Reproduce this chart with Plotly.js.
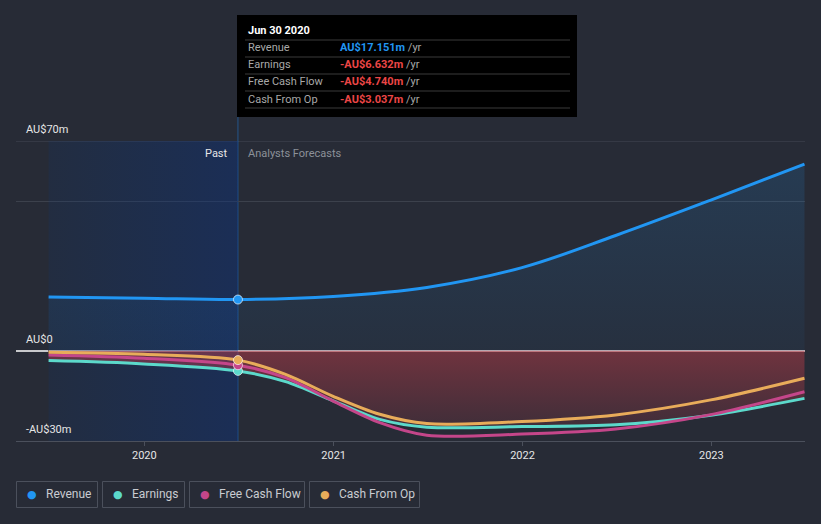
<!DOCTYPE html>
<html>
<head>
<meta charset="utf-8">
<script src="https://cdn.plot.ly/plotly-3.0.1.min.js"></script>
<style>
  html, body { margin: 0; padding: 0; background: #272B36; }
  #chart { width: 821px; height: 524px; }
</style>
</head>
<body>
<div id="chart"></div>
<script>
// ---------------- DATA ----------------
const revDates = ['2019-06-30','2019-12-31','2020-06-30','2020-12-31','2021-06-30','2021-12-31','2022-06-30','2022-12-31','2023-06-30'];
const revenue  = [18.0, 17.6, 17.151, 18.2, 21.2, 27.8, 38.5, 50.3, 62.3];

const negDates = ['2019-06-30','2019-12-31','2020-06-30','2020-09-30','2020-12-31','2021-03-31','2021-06-30','2021-12-31','2022-06-30','2022-12-31','2023-06-30'];
const earnings = [-3.2, -4.3, -6.632, -10.2, -16.6, -22.8, -25.4, -25.2, -24.6, -21.4, -15.8];
const fcf      = [-1.3, -2.4, -4.740, -8.9, -16.7, -23.9, -28.1, -27.7, -26.0, -21.2, -13.6];
const cfo      = [-0.4, -1.1, -3.037, -7.8, -15.1, -21.1, -24.2, -23.5, -21.3, -16.3, -9.1];

const nowDate = '2020-06-30';
const nowLabel = 'Jun 30 2020';
const seriesNames = ['Revenue', 'Earnings', 'Free Cash Flow', 'Cash From Op'];
const tooltipValues = ['AU$17.151m', '-AU$6.632m', '-AU$4.740m', '-AU$3.037m'];

const xTickVals = ['2020-01-01','2021-01-01','2022-01-01','2023-01-01'];
const xTickText = ['2020','2021','2022','2023'];
const yTickVals = [70, 0, -30];
const yTickText = ['AU$70m', 'AU$0', '-AU$30m'];
const yGrid = [70, 50];

// ---------------- STYLE ----------------
const BG = '#272B36';
const colors = ['#2196F3', '#5CD9CB', '#C4468A', '#E8AC5A'];
const RED = '#EC4646';
const FONT = 'Roboto, "Open Sans", sans-serif';
const yRange = [-30, 70];
const xRange = ['2019-04-28', '2023-07-01'];

// pixel helpers for paper coordinates (plot area x:16..805, y:141..441)
const px = x => (x - 16) / 789;
const py = y => (441 - y) / 300;

const pastStart = negDates[0];

const traces = [];
// past region shading (horizontal gradient)
traces.push({
  x: [pastStart, nowDate, nowDate, pastStart, pastStart],
  y: [yRange[0], yRange[0], yRange[1], yRange[1], yRange[0]],
  mode: 'lines', line: {width: 0}, fill: 'toself',
  fillgradient: {type: 'horizontal', colorscale: [[0, 'rgba(5,55,130,0.14)'], [1, 'rgba(10,50,130,0.42)']]},
  hoverinfo: 'skip', showlegend: false
});
// revenue area
traces.push({
  x: revDates, y: revenue, mode: 'lines', fill: 'tozeroy',
  line: {color: colors[0], width: 3, shape: 'spline', smoothing: 1},
  fillgradient: {type: 'vertical', colorscale: [[0, 'rgba(33,150,243,0.05)'], [1, 'rgba(33,150,243,0.15)']]},
  hoverinfo: 'skip', showlegend: false
});
// negative area under earnings
traces.push({
  x: negDates, y: earnings, mode: 'lines', fill: 'tozeroy',
  line: {color: 'rgba(0,0,0,0)', width: 0, shape: 'spline', smoothing: 0.9},
  fillgradient: {type: 'vertical', colorscale: [[0, 'rgba(190,60,72,0.16)'], [1, 'rgba(190,60,72,0.48)']]},
  hoverinfo: 'skip', showlegend: false
});
// lines
[[earnings, 1], [fcf, 2], [cfo, 3]].forEach(([arr, i]) => {
  traces.push({
    x: negDates, y: arr, mode: 'lines',
    line: {color: colors[i], width: 3, shape: 'spline', smoothing: 0.9},
    hoverinfo: 'skip', showlegend: false
  });
});
// markers at current date
const nowVals = [
  revenue[revDates.indexOf(nowDate)],
  earnings[negDates.indexOf(nowDate)],
  fcf[negDates.indexOf(nowDate)],
  cfo[negDates.indexOf(nowDate)]
];
traces.push({
  x: [nowDate, nowDate, nowDate, nowDate], y: nowVals, mode: 'markers',
  marker: {size: 9, color: colors, line: {color: 'rgba(255,255,255,0.65)', width: 1}},
  hoverinfo: 'skip', showlegend: false
});

// ---------------- SHAPES ----------------
const shapes = [];
// top gridline (at range edge)
shapes.push({type: 'line', xref: 'paper', yref: 'y', x0: 0, x1: 1, y0: yRange[1], y1: yRange[1], line: {color: '#444955', width: 1}, layer: 'below'});
// zero line
shapes.push({type: 'line', xref: 'paper', yref: 'y', x0: 0, x1: px(48), y0: 0, y1: 0, line: {color: '#FFFFFF', width: 1.5}, layer: 'below'});
shapes.push({type: 'line', xref: 'x', yref: 'y', x0: pastStart, x1: xRange[1], y0: 0, y1: 0, line: {color: '#F1D3D5', width: 1.5}, layer: 'below'});
// vertical "now" line
shapes.push({type: 'line', xref: 'x', yref: 'paper', x0: nowDate, x1: nowDate, y0: 0, y1: py(15), line: {color: 'rgba(33,120,210,0.55)', width: 1}, layer: 'below'});

// tooltip box
shapes.push({type: 'rect', xref: 'paper', yref: 'paper', x0: px(237), x1: px(577), y0: py(117), y1: py(15), fillcolor: '#000000', line: {width: 0}, layer: 'above'});
[40, 57, 74, 91, 108].forEach(y => {
  shapes.push({type: 'line', xref: 'paper', yref: 'paper', x0: px(245), x1: px(570), y0: py(y), y1: py(y), line: {color: '#3a3a3a', width: 1}, layer: 'above'});
});

// legend boxes
const legendBoxes = [[16, 97], [102, 184], [189, 304], [309, 419]];
legendBoxes.forEach(([a, b]) => {
  shapes.push({type: 'rect', xref: 'paper', yref: 'paper', x0: px(a + 0.5), x1: px(b + 0.5), y0: py(507.5), y1: py(481.5), fillcolor: 'rgba(0,0,0,0)', line: {color: '#4B505C', width: 1}, layer: 'above'});
});

// ---------------- ANNOTATIONS ----------------
const annotations = [];
// y tick labels
yTickVals.forEach((v, i) => {
  annotations.push({xref: 'paper', yref: 'y', x: px(24), y: v, yshift: 3, xanchor: 'left', yanchor: 'bottom', text: yTickText[i], showarrow: false, font: {family: FONT, size: 11, color: '#E6E6E6'}});
});
// Past / Analysts Forecasts
annotations.push({xref: 'x', yref: 'paper', x: nowDate, y: py(153), xshift: -8, xanchor: 'right', yanchor: 'middle', text: 'Past', showarrow: false, font: {family: FONT, size: 11, color: '#E6E6E6'}});
annotations.push({xref: 'x', yref: 'paper', x: nowDate, y: py(153), xshift: 8, xanchor: 'left', yanchor: 'middle', text: 'Analysts Forecasts', showarrow: false, font: {family: FONT, size: 11, color: '#8C9199'}});
// tooltip text
annotations.push({xref: 'paper', yref: 'paper', x: px(246), y: py(31), xanchor: 'left', yanchor: 'middle', text: '<b>' + nowLabel + '</b>', showarrow: false, font: {family: FONT, size: 11, color: '#FFFFFF'}});
const rowY = [48, 65, 82, 99];
seriesNames.forEach((name, i) => {
  annotations.push({xref: 'paper', yref: 'paper', x: px(246), y: py(rowY[i]), xanchor: 'left', yanchor: 'middle', text: name, showarrow: false, font: {family: FONT, size: 11, color: '#A8A8A8'}});
  const vc = i === 0 ? colors[0] : RED;
  annotations.push({xref: 'paper', yref: 'paper', x: px(338), y: py(rowY[i]), xanchor: 'left', yanchor: 'middle', text: '<b><span style="color:' + vc + '">' + tooltipValues[i] + '</span></b> /yr', showarrow: false, font: {family: FONT, size: 11, color: '#A8A8A8'}});
});
// legend items
legendBoxes.forEach(([a, b], i) => {
  annotations.push({xref: 'paper', yref: 'paper', x: px(a + 16), y: py(494.5), xanchor: 'center', yanchor: 'middle', text: '●', showarrow: false, font: {family: 'DejaVu Sans', size: 11, color: colors[i]}});
  annotations.push({xref: 'paper', yref: 'paper', x: px(a + 28), y: py(494.5), xanchor: 'left', yanchor: 'middle', text: seriesNames[i], showarrow: false, font: {family: FONT, size: 12, color: '#C9CCD1'}});
});

const layout = {
  width: 821, height: 524,
  margin: {l: 16, r: 16, t: 141, b: 83, pad: 0},
  paper_bgcolor: BG, plot_bgcolor: BG,
  font: {family: FONT, color: '#E6E6E6'},
  showlegend: false,
  hovermode: false,
  xaxis: {
    type: 'date', range: xRange,
    tickvals: xTickVals, ticktext: xTickText,
    showgrid: false, zeroline: false,
    showline: true, linecolor: '#4B505C', linewidth: 1,
    ticks: 'outside', ticklen: 4, tickcolor: '#4B505C',
    tickfont: {family: FONT, size: 11, color: '#E6E6E6'},
    fixedrange: true
  },
  yaxis: {
    range: yRange, tickvals: yGrid, showticklabels: false,
    showgrid: true, gridcolor: '#3C414C', gridwidth: 1,
    zeroline: false, showline: false, ticks: '', fixedrange: true
  },
  shapes: shapes,
  annotations: annotations
};

Plotly.newPlot('chart', traces, layout, {displayModeBar: false, staticPlot: true});
</script>
</body>
</html>
